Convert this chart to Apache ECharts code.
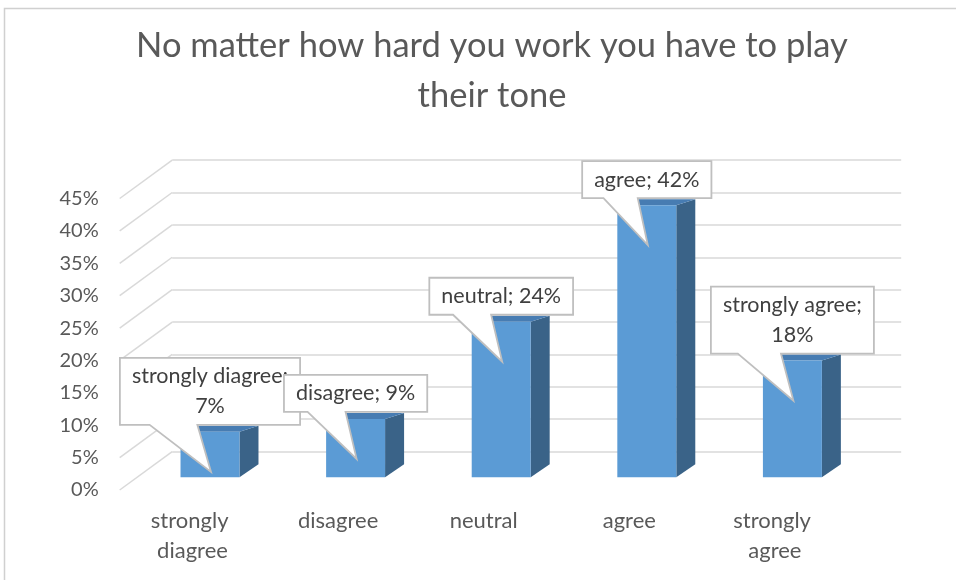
<!DOCTYPE html>
<html>
<head>
<meta charset="utf-8">
<title>No matter how hard you work you have to play their tone</title>
<script src="https://cdn.jsdelivr.net/npm/echarts@6/dist/echarts.min.js"></script>
<style>
  html, body { margin: 0; padding: 0; background: #ffffff; }
  #chart { width: 956px; height: 580px; }
</style>
</head>
<body>
<div id="chart"></div>
<script>
// ---- data ----
const categories = ['strongly diagree', 'disagree', 'neutral', 'agree', 'strongly agree'];
const shares = [7, 9, 24, 42, 18];            // percent of answers
const percentTicks = [0, 5, 10, 15, 20, 25, 30, 35, 40, 45];
const chartTitle = 'No matter how hard you work you have to play\ntheir tone';

// ---- look ----
const FONT = 'Lato, "Open Sans", sans-serif';
const TEXT_GREY = '#595959';
const GRID_GREY = '#d9d9d9';
const CALLOUT_SIZE = 21.5;
const CALLOUT_LINE = 30;
const CALLOUT_MAX = 165;
const CALLOUT_PAD = 24;

// oblique projection: one depth step moves right and up
const DEPTH = [17.5, -12.8];
const PLOT_W = 728, PLOT_H = 291.5;
const labelPlane = { left: 119.7, top: 198.5 };
const barPlane = { left: labelPlane.left + DEPTH[0], top: labelPlane.top + DEPTH[1] };
const wallPlane = { left: labelPlane.left + 3 * DEPTH[0], top: labelPlane.top + 3 * DEPTH[1] };

const measureCtx = document.createElement('canvas').getContext('2d');
measureCtx.font = CALLOUT_SIZE + 'px ' + FONT;

function calloutText(i) {
  const one = categories[i] + '; ' + shares[i] + '%';
  if (measureCtx.measureText(one).width <= CALLOUT_MAX) return one;
  return categories[i] + ';\n' + shares[i] + '%';
}

function renderBar(params, api) {
  const i = api.value(0);
  const top = api.coord([i, api.value(1)]);
  const base = api.coord([i, 0]);
  const w = api.size([1, 0])[0] * 0.405;
  const x0 = top[0] - w / 2, x1 = top[0] + w / 2;
  const dx = 19, dyTop = -6, dyBase = -13;
  return {
    type: 'group',
    children: [
      { type: 'polygon',
        shape: { points: [[x1, top[1]], [x1 + dx, top[1] + dyTop], [x1 + dx, base[1] + dyBase], [x1, base[1]]] },
        style: { fill: '#3a6388' } },
      { type: 'polygon',
        shape: { points: [[x0, top[1]], [x1, top[1]], [x1 + dx, top[1] + dyTop], [x0 + dx, top[1] + dyTop]] },
        style: { fill: '#477cb2' } },
      { type: 'rect',
        shape: { x: x0, y: top[1], width: w, height: base[1] - top[1] },
        style: { fill: '#5b9bd5' } }
    ]
  };
}

function renderCallout(params, api) {
  const i = api.value(0);
  const top = api.coord([i, api.value(1)]);
  const text = calloutText(i);
  const lines = text.split('\n');
  let tw = 0;
  lines.forEach(function (l) { tw = Math.max(tw, measureCtx.measureText(l).width); });
  const W = tw + CALLOUT_PAD;
  const H = lines.length * CALLOUT_LINE + 7;
  const cx = top[0];
  const B = top[1] - 7, T = B - H, L = cx - W / 2, R = cx + W / 2;
  const wl = L + 0.165 * W, wr = L + 0.43 * W;
  const tip = [cx + 1, top[1] + 40];
  return {
    type: 'group',
    children: [
      { type: 'polygon',
        shape: { points: [[L, T], [R, T], [R, B], [wr, B], tip, [wl, B], [L, B]] },
        style: { fill: '#ffffff', stroke: '#bfbfbf', lineWidth: 1.8, lineJoin: 'miter' } },
      { type: 'text',
        style: { text: text, x: cx, y: (T + B) / 2, align: 'center', verticalAlign: 'middle',
                 fontSize: CALLOUT_SIZE, fontFamily: FONT, lineHeight: CALLOUT_LINE, fill: '#404040' } }
    ]
  };
}

function renderConnector(params, api) {
  const p = api.coord([0, api.value(1)]);
  return {
    type: 'line',
    shape: { x1: p[0] - 3 * DEPTH[0], y1: p[1] - 3 * DEPTH[1], x2: p[0], y2: p[1] },
    style: { stroke: GRID_GREY, lineWidth: 1.5 }
  };
}

const barData = categories.map(function (c, i) { return [i, shares[i]]; });
const hidden = { show: false };

const option = {
  backgroundColor: '#ffffff',
  animation: false,
  title: {
    text: chartTitle,
    left: 487, top: 16,
    textAlign: 'center',
    textStyle: { fontFamily: FONT, fontSize: 34.5, fontWeight: 'normal', color: TEXT_GREY, lineHeight: 50 }
  },
  graphic: [{
    type: 'rect', silent: true, z: -1,
    shape: { x: 4.5, y: 8.5, width: 1200, height: 1200 },
    style: { fill: 'none', stroke: '#d0d0d0', lineWidth: 1.5 }
  }],
  grid: [
    { left: barPlane.left, top: barPlane.top, width: PLOT_W, height: PLOT_H },
    { left: labelPlane.left, top: labelPlane.top, width: PLOT_W, height: PLOT_H },
    { left: wallPlane.left, top: wallPlane.top, width: 729, height: PLOT_H }
  ],
  xAxis: [
    { gridIndex: 0, type: 'category', data: categories, axisLine: hidden, axisTick: hidden, axisLabel: hidden },
    { gridIndex: 1, type: 'category', data: categories,
      axisLine: hidden, axisTick: hidden,
      axisLabel: { color: TEXT_GREY, fontFamily: FONT, fontSize: 22, lineHeight: 30, margin: 16,
                   width: 110, overflow: 'break', interval: 0 } },
    { gridIndex: 2, type: 'value', min: 0, max: 1, show: false }
  ],
  yAxis: [
    { gridIndex: 0, type: 'value', min: 0, max: 45, interval: 5, show: false },
    { gridIndex: 1, type: 'value', min: 0, max: 45, interval: 5,
      axisLine: hidden, axisTick: hidden, splitLine: hidden,
      axisLabel: { formatter: '{value}%', color: TEXT_GREY, fontFamily: FONT, fontSize: 20, margin: 21 } },
    { gridIndex: 2, type: 'value', min: 0, max: 45, interval: 5,
      axisLine: hidden, axisTick: hidden, axisLabel: hidden,
      splitLine: { show: true, lineStyle: { color: GRID_GREY, width: 1.5 } } }
  ],
  series: [
    { type: 'custom', name: 'wall', xAxisIndex: 2, yAxisIndex: 2, clip: false, silent: true, z: 1,
      renderItem: renderConnector, data: percentTicks.map(function (v) { return [0, v]; }) },
    { type: 'custom', name: 'share', xAxisIndex: 0, yAxisIndex: 0, clip: false, z: 2,
      renderItem: renderBar, data: barData },
    { type: 'custom', name: 'labels', xAxisIndex: 0, yAxisIndex: 0, clip: false, z: 3,
      renderItem: renderCallout, data: barData }
  ]
};

const chart = echarts.init(document.getElementById('chart'), null, { renderer: 'canvas' });
chart.setOption(option);
</script>
</body>
</html>
